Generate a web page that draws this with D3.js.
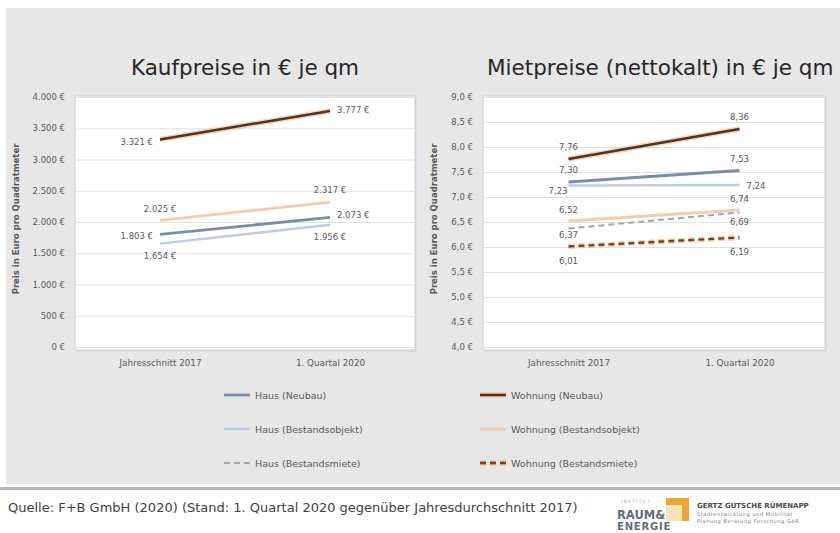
<!DOCTYPE html>
<html lang="de">
<head>
<meta charset="utf-8">
<script src="https://cdn.jsdelivr.net/npm/d3@7"></script>
<style>
  html, body { margin: 0; padding: 0; background: #ffffff; }
  svg { display: block; font-family: "DejaVu Sans", Verdana, sans-serif; }
</style>
</head>
<body>
<svg id="chart" width="840" height="533"></svg>
<script>
// ---- Data ---------------------------------------------------------------
const categories = ["Jahresschnitt 2017", "1. Quartal 2020"];

const seriesNames = [
  "Haus (Neubau)", "Haus (Bestandsobjekt)", "Haus (Bestandsmiete)",
  "Wohnung (Neubau)", "Wohnung (Bestandsobjekt)", "Wohnung (Bestandsmiete)"
];

// Kaufpreise in € je qm
const kaufHausNeubau        = [1803, 2073];
const kaufHausBestand       = [1654, 1956];
const kaufWohnungNeubau     = [3321, 3777];
const kaufWohnungBestand    = [2025, 2317];

// Mietpreise (nettokalt) in € je qm
const mieteHausNeubau       = [7.30, 7.53];
const mieteHausBestand      = [7.23, 7.24];
const mieteHausBestandsmiete    = [6.37, 6.69];
const mieteWohnungNeubau    = [7.76, 8.36];
const mieteWohnungBestand   = [6.52, 6.74];
const mieteWohnungBestandsmiete = [6.01, 6.19];

const kaufTicks  = [0, 500, 1000, 1500, 2000, 2500, 3000, 3500, 4000];
const mieteTicks = [4.0, 4.5, 5.0, 5.5, 6.0, 6.5, 7.0, 7.5, 8.0, 8.5, 9.0];

// ---- Styling per series -------------------------------------------------
const styles = {
  "Haus (Neubau)":            { color: "#7d8ca6", width: 2.8, dash: null },
  "Haus (Bestandsobjekt)":    { color: "#bccae2", width: 2.5, dash: null },
  "Haus (Bestandsmiete)":     { color: "#9ea6b4", width: 2,   dash: "6,4" },
  "Wohnung (Neubau)":         { color: "#4e3421", width: 2.5, dash: null, glow: "#e8b48a" },
  "Wohnung (Bestandsobjekt)": { color: "#f4ccad", width: 2.8, dash: null },
  "Wohnung (Bestandsmiete)":  { color: "#7a3f14", width: 2.3, dash: "6,4", glow: "#f0a46a" }
};

const de = d3.formatLocale({ decimal: ",", thousands: ".", grouping: [3], currency: ["", " €"] });
const fmtEuro0 = v => de.format(",.0f")(v) + " €";
const fmtEuro1 = v => de.format(".1f")(v) + " €";
const fmtDec2  = v => de.format(".2f")(v);

const svg = d3.select("#chart");
const textColor = "#595959";

// ---- Background panel ---------------------------------------------------
svg.append("rect").attr("x", 6).attr("y", 8).attr("width", 834).attr("height", 476).attr("fill", "#e7e7e7");
svg.append("rect").attr("x", 0).attr("y", 487).attr("width", 840).attr("height", 3).attr("fill", "#b9b9b9");

// ---- Chart builder ------------------------------------------------------
function drawChart(cfg) {
  const g = svg.append("g");
  const { left, right, top, bottom } = cfg.plot;

  const x = d3.scalePoint().domain(categories).range([left, right]).padding(0.5);
  const y = d3.scaleLinear().domain(cfg.domain).range([cfg.y0, cfg.y1]);

  // plot area
  g.append("rect").attr("x", left + 1.5).attr("y", top + 1.5)
    .attr("width", right - left).attr("height", bottom - top)
    .attr("fill", "#d6d6d6");
  g.append("rect").attr("x", left).attr("y", top)
    .attr("width", right - left).attr("height", bottom - top)
    .attr("fill", "#ffffff").attr("stroke", "#cfcfcf").attr("stroke-width", 1);

  // gridlines
  g.append("g").attr("transform", `translate(${left},0)`)
    .call(d3.axisLeft(y).tickValues(cfg.ticks).tickSize(-(right - left)).tickFormat(""))
    .call(s => s.select(".domain").remove())
    .call(s => s.selectAll("line").attr("stroke", "#e0e0e0").attr("stroke-width", 1));

  // y tick labels
  g.append("g").attr("transform", `translate(${left},0)`)
    .call(d3.axisLeft(y).tickValues(cfg.ticks).tickSize(0).tickPadding(10).tickFormat(cfg.tickFormat))
    .call(s => s.select(".domain").remove())
    .call(s => s.selectAll("text").attr("fill", textColor).attr("font-size", 8.5)
      .attr("font-family", "DejaVu Sans, sans-serif"));

  // x tick labels
  g.append("g").attr("transform", `translate(0,${bottom})`)
    .call(d3.axisBottom(x).tickSize(0).tickPadding(10))
    .call(s => s.select(".domain").remove())
    .call(s => s.selectAll("text").attr("fill", textColor).attr("font-size", 8.8)
      .attr("font-family", "DejaVu Sans, sans-serif"));

  // y axis title
  g.append("text")
    .attr("transform", `translate(${cfg.yTitleX},${(top + bottom) / 2 - 4}) rotate(-90)`)
    .attr("text-anchor", "middle").attr("font-size", 8.5).attr("font-weight", "bold")
    .attr("fill", textColor).text("Preis in Euro pro Quadratmeter");

  // chart title
  g.append("text").attr("x", cfg.titleX).attr("y", 75)
    .attr("text-anchor", cfg.titleAnchor).attr("font-size", 21.5)
    .attr("fill", "#262626").text(cfg.title);

  const line = d3.line().x(d => x(d.cat)).y(d => y(d.v));

  cfg.series.forEach(s => {
    const st = styles[s.name];
    const pts = categories.map((c, i) => ({ cat: c, v: s.values[i] }));
    if (st.glow) {
      g.append("path").datum(pts).attr("d", line).attr("fill", "none")
        .attr("stroke", st.glow).attr("stroke-width", st.width + 3).attr("stroke-opacity", 0.55)
        .attr("stroke-dasharray", st.dash);
    }
    g.append("path").datum(pts).attr("d", line).attr("fill", "none")
      .attr("stroke", st.color).attr("stroke-width", st.width)
      .attr("stroke-dasharray", st.dash);

    // value labels
    pts.forEach((p, i) => {
      const pl = s.labels[i];
      const px = x(p.cat), py = y(p.v);
      let tx = px, anchor = "middle";
      if (pl.pos === "left")  { tx = px - (pl.dx ?? 7); anchor = "end"; }
      if (pl.pos === "right") { tx = px + (pl.dx ?? 7); anchor = "start"; }
      g.append("text").attr("x", tx).attr("y", py + pl.dy)
        .attr("text-anchor", anchor).attr("font-size", 8.5)
        .attr("fill", textColor).text(cfg.labelFormat(p.v));
    });
  });

  // legend
  const lg = g.append("g");
  cfg.legend.forEach((name, i) => {
    const st = styles[name];
    const ly = 395 + i * 34;
    if (st.glow) {
      lg.append("line").attr("x1", cfg.legendX).attr("x2", cfg.legendX + 26).attr("y1", ly).attr("y2", ly)
        .attr("stroke", st.glow).attr("stroke-width", st.width + 3).attr("stroke-opacity", 0.55)
        .attr("stroke-dasharray", st.dash);
    }
    lg.append("line").attr("x1", cfg.legendX).attr("x2", cfg.legendX + 26).attr("y1", ly).attr("y2", ly)
      .attr("stroke", st.color).attr("stroke-width", st.width).attr("stroke-dasharray", st.dash);
    lg.append("text").attr("x", cfg.legendX + 31).attr("y", ly + 3.5)
      .attr("font-size", 9.5).attr("fill", textColor).text(name);
  });
}

// Kaufpreise
drawChart({
  title: "Kaufpreise in € je qm", titleX: 245, titleAnchor: "middle",
  plot: { left: 75, right: 415, top: 96, bottom: 350 },
  domain: [0, 4000], y0: 347, y1: 97,
  ticks: kaufTicks, tickFormat: fmtEuro0, labelFormat: fmtEuro0,
  yTitleX: 19,
  legendX: 224,
  legend: seriesNames.slice(0, 3),
  series: [
    { name: "Wohnung (Neubau)",         values: kaufWohnungNeubau,  labels: [{ pos: "left", dy: 6 }, { pos: "right", dy: 2 }] },
    { name: "Wohnung (Bestandsobjekt)", values: kaufWohnungBestand, labels: [{ pos: "above", dy: -8 }, { pos: "above", dy: -9 }] },
    { name: "Haus (Bestandsobjekt)",    values: kaufHausBestand,    labels: [{ pos: "below", dy: 15 }, { pos: "below", dy: 15 }] },
    { name: "Haus (Neubau)",            values: kaufHausNeubau,     labels: [{ pos: "left", dy: 4.5 }, { pos: "right", dy: 1 }] }
  ]
});

// Mietpreise
drawChart({
  title: "Mietpreise (nettokalt) in € je qm", titleX: 487, titleAnchor: "start",
  plot: { left: 483, right: 825, top: 96, bottom: 350 },
  domain: [4, 9], y0: 347, y1: 97,
  ticks: mieteTicks, tickFormat: fmtEuro1, labelFormat: fmtDec2,
  yTitleX: 437,
  legendX: 480,
  legend: seriesNames.slice(3),
  series: [
    { name: "Wohnung (Neubau)",         values: mieteWohnungNeubau,        labels: [{ pos: "above", dy: -9 }, { pos: "above", dy: -9 }] },
    { name: "Haus (Bestandsobjekt)",    values: mieteHausBestand,          labels: [{ pos: "left", dx: 1, dy: 8.5 }, { pos: "right", dy: 4 }] },
    { name: "Haus (Neubau)",            values: mieteHausNeubau,           labels: [{ pos: "above", dy: -9.5 }, { pos: "above", dy: -9 }] },
    { name: "Wohnung (Bestandsobjekt)", values: mieteWohnungBestand,       labels: [{ pos: "above", dy: -8 }, { pos: "above", dy: -8.5 }] },
    { name: "Haus (Bestandsmiete)",     values: mieteHausBestandsmiete,    labels: [{ pos: "below", dy: 9.5 }, { pos: "below", dy: 12.5 }] },
    { name: "Wohnung (Bestandsmiete)",  values: mieteWohnungBestandsmiete, labels: [{ pos: "below", dy: 17.5 }, { pos: "below", dy: 17.5 }] }
  ]
});

// ---- Footer -------------------------------------------------------------
svg.append("text").attr("x", 8).attr("y", 512).attr("font-size", 13)
  .attr("fill", "#404040")
  .text("Quelle: F+B GmbH (2020) (Stand: 1. Quartal 2020 gegenüber Jahresdurchschnitt 2017)");

// Logo
const logo = svg.append("g");
logo.append("text").attr("x", 621).attr("y", 503).attr("font-size", 4.5).attr("letter-spacing", 1.2)
  .attr("fill", "#9aa6b2").text("INSTITUT");
logo.append("path")
  .attr("d", "M666,498 H689 V521 H682 V505 H666 Z")
  .attr("fill", "#f0a436");
logo.append("rect").attr("x", 666).attr("y", 505).attr("width", 16).attr("height", 16).attr("fill", "#fbe3b8");
logo.append("text").attr("x", 617).attr("y", 519).attr("font-size", 11.5).attr("font-weight", "bold")
  .attr("fill", "#5d6f80").text("RAUM&");
logo.append("text").attr("x", 617).attr("y", 530).attr("font-size", 10).attr("font-weight", "bold")
  .attr("letter-spacing", 0.8).attr("fill", "#5d6f80").text("ENERGIE");
logo.append("text").attr("x", 697).attr("y", 508).attr("font-size", 7).attr("font-weight", "bold")
  .attr("fill", "#4a4a4a").text("GERTZ GUTSCHE RÜMENAPP");
logo.append("text").attr("x", 697).attr("y", 515.5).attr("font-size", 5).attr("letter-spacing", 0.6)
  .attr("fill", "#7a7a7a").text("Stadtentwicklung und Mobilität");
logo.append("text").attr("x", 697).attr("y", 522.5).attr("font-size", 5).attr("letter-spacing", 0.6)
  .attr("fill", "#7a7a7a").text("Planung Beratung Forschung GbR");
</script>
</body>
</html>
